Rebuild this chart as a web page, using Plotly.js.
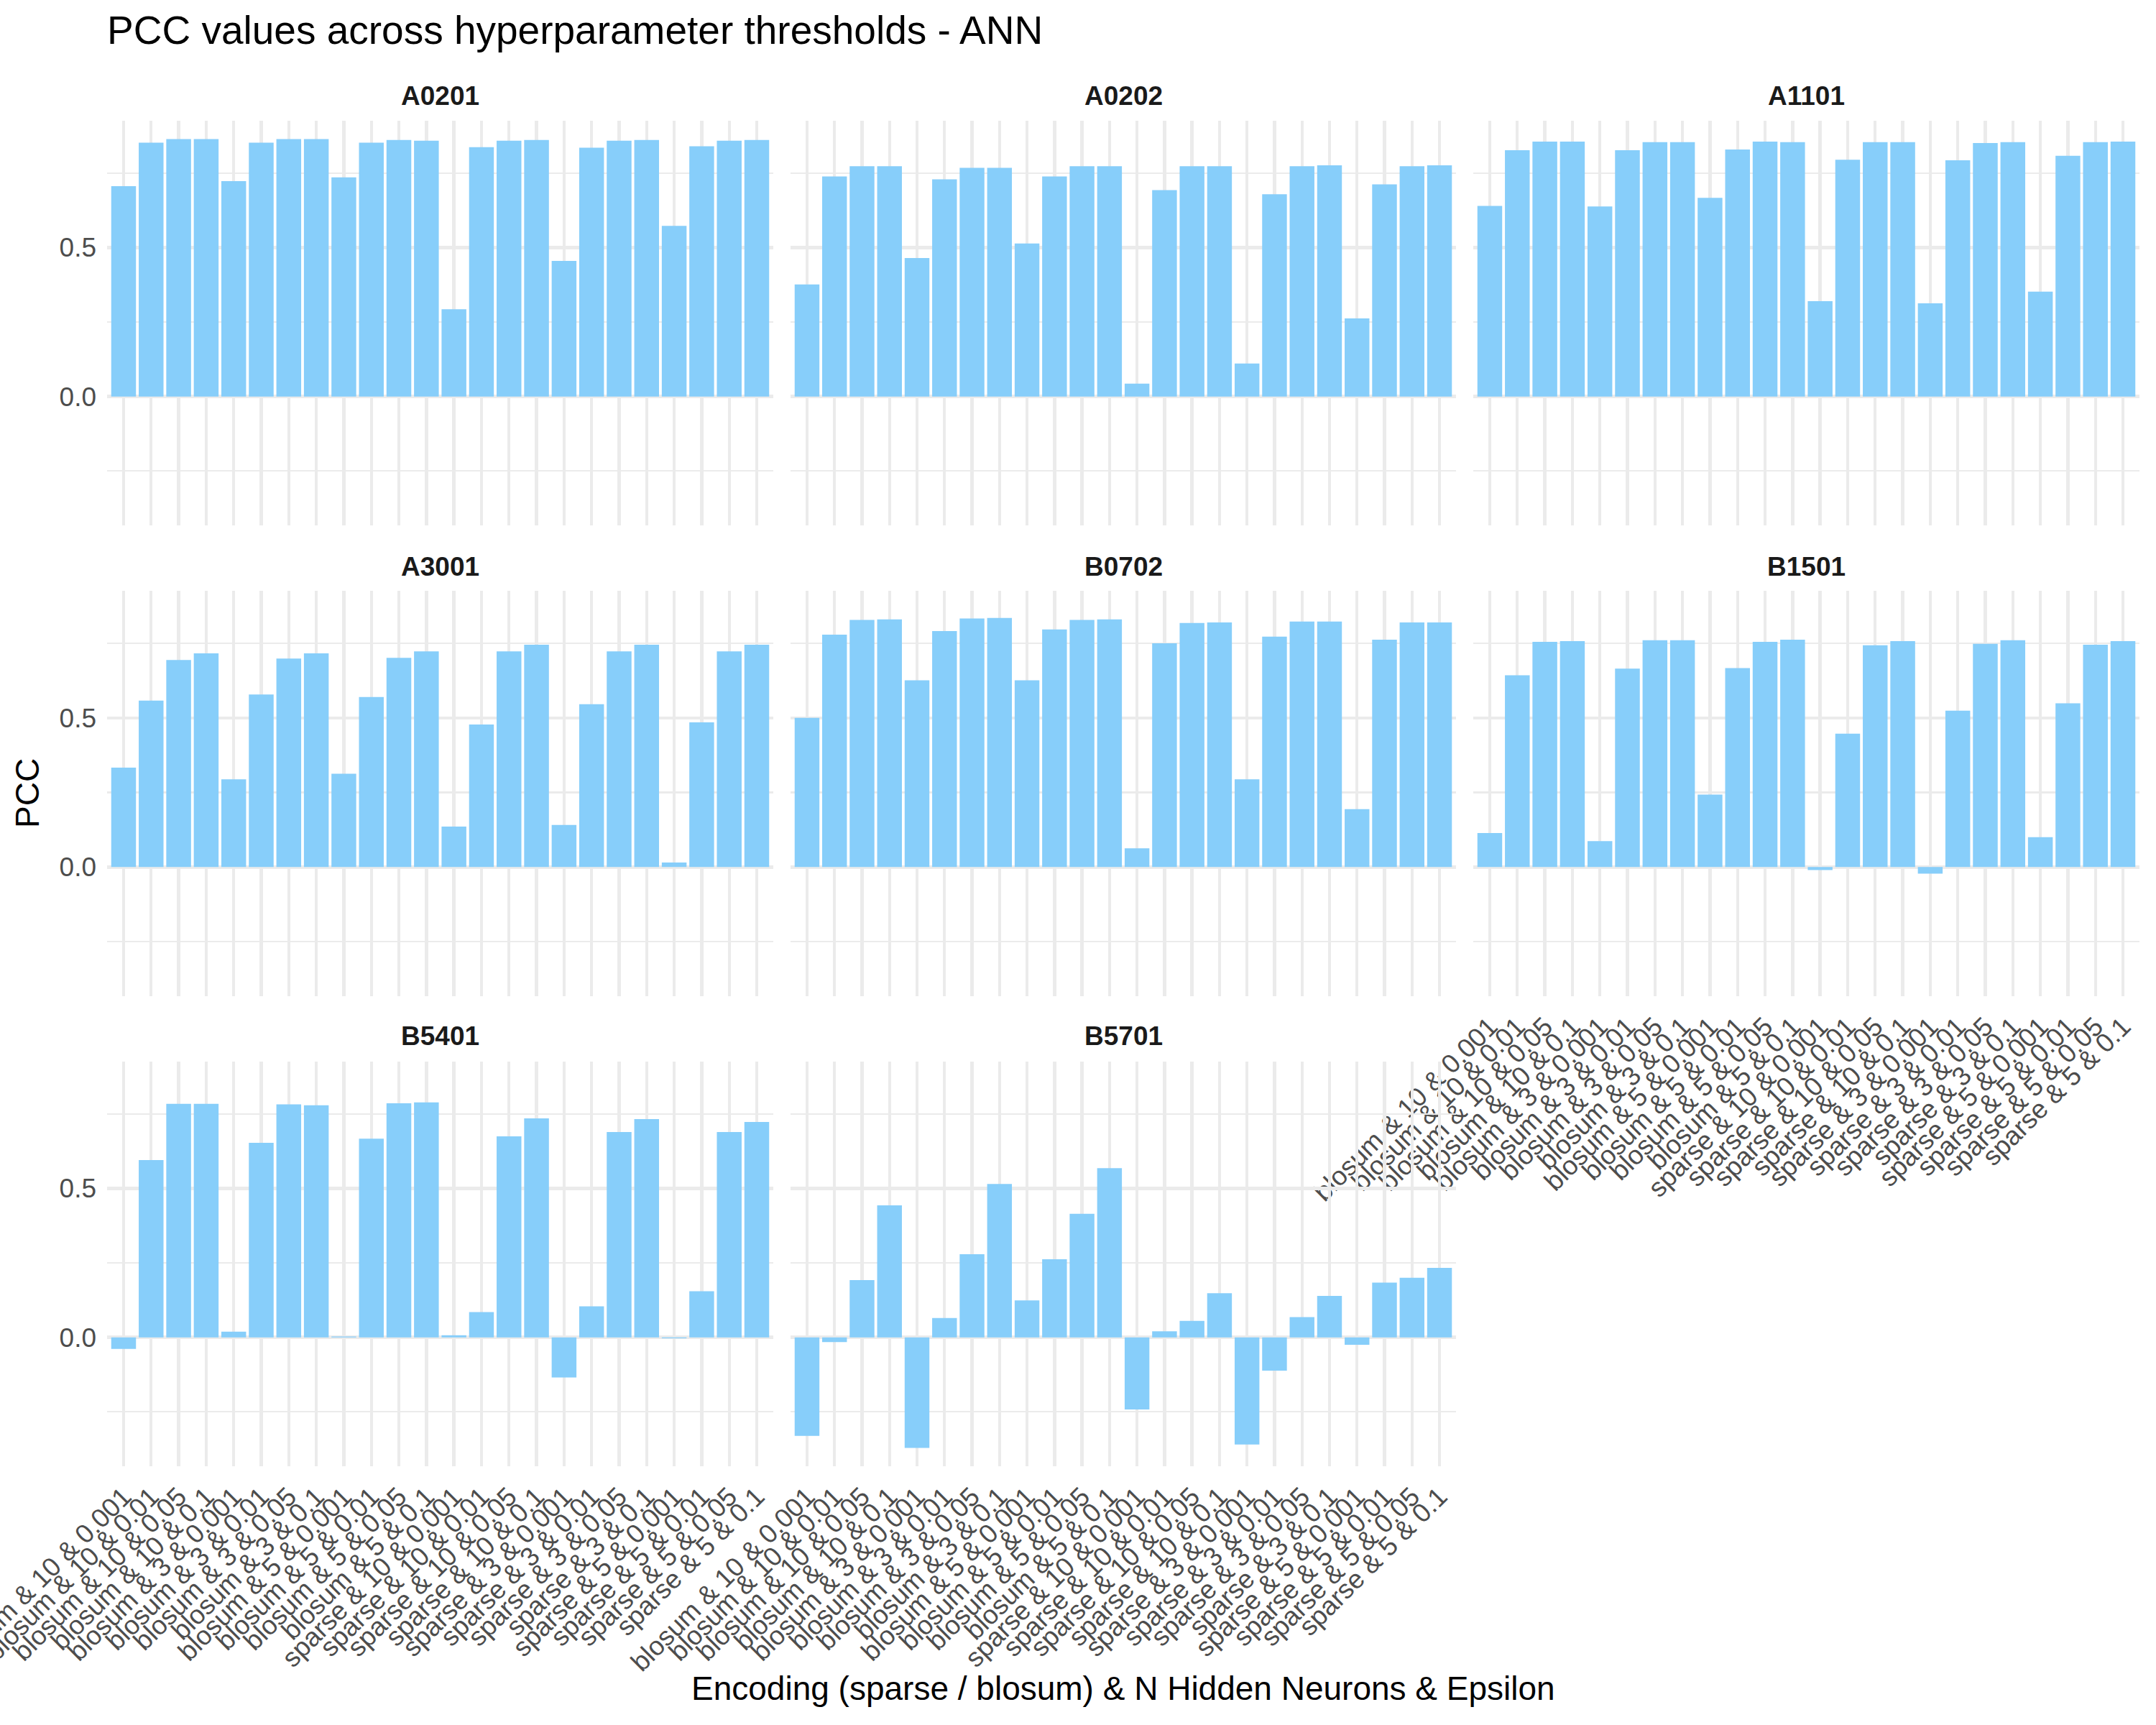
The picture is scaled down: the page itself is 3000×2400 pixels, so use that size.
<!DOCTYPE html>
<html>
<head>
<meta charset="utf-8">
<script src="https://cdn.plot.ly/plotly-3.0.1.min.js"></script>
<style>html,body{margin:0;padding:0;background:#fff;}#chart{width:3000px;height:2400px;}</style>
</head>
<body>
<div id="chart"></div>
<script>
const categories = [
  "blosum & 10 & 0.001","blosum & 10 & 0.01","blosum & 10 & 0.05","blosum & 10 & 0.1",
  "blosum & 3 & 0.001","blosum & 3 & 0.01","blosum & 3 & 0.05","blosum & 3 & 0.1",
  "blosum & 5 & 0.001","blosum & 5 & 0.01","blosum & 5 & 0.05","blosum & 5 & 0.1",
  "sparse & 10 & 0.001","sparse & 10 & 0.01","sparse & 10 & 0.05","sparse & 10 & 0.1",
  "sparse & 3 & 0.001","sparse & 3 & 0.01","sparse & 3 & 0.05","sparse & 3 & 0.1",
  "sparse & 5 & 0.001","sparse & 5 & 0.01","sparse & 5 & 0.05","sparse & 5 & 0.1"
];
const panelNames = ["A0201","A0202","A1101","A3001","B0702","B1501","B5401","B5701"];

const pccA0201 = [0.706,0.852,0.864,0.864,0.723,0.852,0.864,0.864,0.736,0.852,0.861,0.859,0.293,0.837,0.859,0.861,0.455,0.835,0.859,0.861,0.573,0.840,0.859,0.861];
const pccA0202 = [0.376,0.739,0.773,0.773,0.465,0.729,0.768,0.768,0.514,0.739,0.773,0.773,0.043,0.693,0.773,0.773,0.111,0.679,0.773,0.776,0.262,0.712,0.773,0.776];
const pccA1101 = [0.640,0.827,0.856,0.856,0.638,0.827,0.854,0.854,0.667,0.829,0.856,0.854,0.320,0.795,0.854,0.854,0.313,0.793,0.851,0.854,0.352,0.808,0.854,0.856];
const pccA3001 = [0.333,0.558,0.694,0.716,0.294,0.578,0.699,0.716,0.313,0.570,0.701,0.723,0.136,0.478,0.723,0.745,0.141,0.546,0.723,0.745,0.015,0.485,0.723,0.745];
const pccB0702 = [0.500,0.779,0.828,0.830,0.626,0.791,0.833,0.835,0.626,0.796,0.828,0.830,0.063,0.750,0.818,0.820,0.294,0.772,0.823,0.823,0.194,0.762,0.820,0.820];
const pccB1501 = [0.114,0.643,0.755,0.757,0.087,0.665,0.760,0.760,0.243,0.667,0.755,0.762,-0.010,0.447,0.743,0.757,-0.022,0.524,0.748,0.760,0.100,0.549,0.745,0.757];
const pccB5401 = [-0.039,0.595,0.784,0.784,0.019,0.653,0.782,0.779,0.003,0.667,0.786,0.789,0.007,0.085,0.675,0.735,-0.135,0.104,0.689,0.733,-0.003,0.155,0.689,0.723];
const pccB5701 = [-0.331,-0.016,0.192,0.443,-0.371,0.065,0.279,0.515,0.124,0.262,0.415,0.568,-0.242,0.020,0.055,0.148,-0.360,-0.112,0.068,0.139,-0.025,0.184,0.200,0.233];

const yTickVals = [0.0, 0.5];
const yTickText = ["0.0", "0.5"];

const panelValues = [pccA0201,pccA0202,pccA1101,pccA3001,pccB0702,pccB1501,pccB5401,pccB5701];

const W = 3000, H = 2400;
const colX = [[149,1076],[1100,2026],[2050,2977]];
const rowY = [[168,731],[822,1386],[1477,2040]];
const stripY = [134,788,1441];

const FONT = "Liberation Sans, Arial, Helvetica, sans-serif";
const GRID = "#EBEBEB";

let allVals = [0];
panelValues.forEach(v => allVals = allVals.concat(v));
const vmin = Math.min(...allVals), vmax = Math.max(...allVals);
const span = vmax - vmin;
const yRange = [vmin - 0.05*span, vmax + 0.05*span];

const traces = [];
const layout = {
  width: W, height: H,
  margin: {l:0, r:0, t:0, b:0},
  paper_bgcolor: "#ffffff",
  plot_bgcolor: "rgba(0,0,0,0)",
  showlegend: false,
  bargap: 0.1,
  font: {family: FONT, color: "#4D4D4D"},
  title: {
    text: "PCC values across hyperparameter thresholds - ANN",
    font: {family: FONT, size: 55, color: "#000000"},
    x: 149/W, xanchor: "left", xref: "paper",
    y: 1 - 42/H, yanchor: "middle", yref: "container"
  },
  annotations: []
};

panelNames.forEach((name, i) => {
  const row = Math.floor(i/3), col = i % 3;
  const sfx = i === 0 ? "" : String(i+1);
  traces.push({
    type: "bar",
    x: categories,
    y: panelValues[i],
    xaxis: "x" + sfx,
    yaxis: "y" + sfx,
    marker: {color: "#87CEFA", line: {width: 0}},
    hoverinfo: "x+y"
  });
  const showX = (row === 2) || (row === 1 && col === 2);
  layout["xaxis" + sfx] = {
    domain: [colX[col][0]/W, colX[col][1]/W],
    anchor: "y" + sfx,
    type: "category",
    categoryorder: "array",
    categoryarray: categories,
    range: [-0.6, categories.length - 0.4],
    tickmode: "array",
    tickvals: categories,
    ticktext: categories,
    tickangle: -45,
    showticklabels: showX,
    ticks: "",
    ticklabelstandoff: 12,
    tickfont: {family: FONT, size: 37, color: "#4D4D4D"},
    showgrid: true, gridcolor: GRID, gridwidth: 4.4,
    zeroline: false, showline: false,
    automargin: false
  };
  layout["yaxis" + sfx] = {
    domain: [1 - rowY[row][1]/H, 1 - rowY[row][0]/H],
    anchor: "x" + sfx,
    range: yRange,
    tickmode: "array",
    tickvals: yTickVals,
    ticktext: yTickText,
    showticklabels: col === 0,
    ticks: "",
    ticklabelstandoff: 14,
    tickfont: {family: FONT, size: 37, color: "#4D4D4D"},
    showgrid: true, gridcolor: GRID, gridwidth: 4.4,
    minor: {tickmode: "array", tickvals: [-0.25, 0.25, 0.75], showgrid: true, gridcolor: GRID, gridwidth: 2.2},
    zeroline: false, showline: false,
    automargin: false
  };
  layout.annotations.push({
    text: "<b>" + name + "</b>",
    xref: "paper", yref: "paper",
    x: (colX[col][0] + colX[col][1]) / 2 / W,
    y: 1 - stripY[row]/H,
    xanchor: "center", yanchor: "middle",
    showarrow: false,
    font: {family: FONT, size: 37, color: "#1A1A1A"}
  });
});

layout.annotations.push({
  text: "PCC",
  xref: "paper", yref: "paper",
  x: 38/W, y: 1 - 1104/H,
  xanchor: "center", yanchor: "middle",
  textangle: -90, showarrow: false,
  font: {family: FONT, size: 46, color: "#000000"}
});
layout.annotations.push({
  text: "Encoding (sparse / blosum) & N Hidden Neurons & Epsilon",
  xref: "paper", yref: "paper",
  x: 1563/W, y: 1 - 2349/H,
  xanchor: "center", yanchor: "middle",
  showarrow: false,
  font: {family: FONT, size: 46, color: "#000000"}
});

Plotly.newPlot("chart", traces, layout, {displayModeBar: false, staticPlot: true});
</script>
</body>
</html>
